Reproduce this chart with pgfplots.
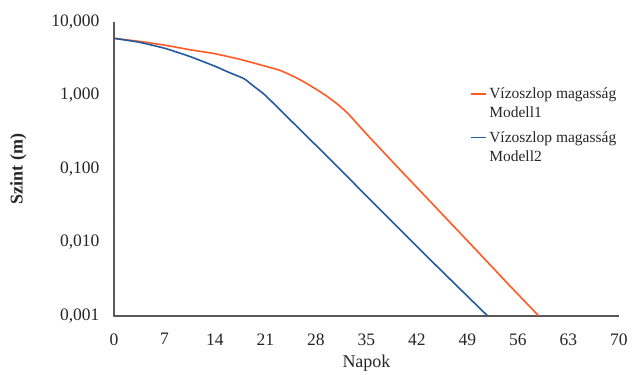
\documentclass[border=0pt]{standalone}
\usepackage{pgfplots}
\pgfplotsset{compat=1.18}
\usepackage{fontspec}
\setmainfont{Liberation Serif}
\definecolor{orangeM}{HTML}{FF5A24}
\definecolor{blueM}{HTML}{245A9E}
\definecolor{axgray}{HTML}{595959}
\pgfplotstableread{
x y
0 6.0
3.5 5.45
7 4.85
10.5 4.2
14 3.7
17.5 3.1
21 2.5
23 2.2
25 1.8
26.5 1.5
28 1.22
29.5 0.98
31 0.76
32.5 0.56
35 0.30
40 0.090
45 0.0274
50 0.0083
55 0.0025
58.9 0.001
}\modelone
\pgfplotstableread{
x y
0 6.0
3.5 5.3
7 4.4
10.5 3.4
14 2.5
16 2.05
18 1.7
19 1.43
20 1.2
21 1.0
25 0.41
30 0.134
35 0.043
40 0.0139
45 0.0045
51.8 0.001
}\modeltwo
\begin{document}
\begin{tikzpicture}
\begin{axis}[
  name=ax,
  scale only axis,
  width=505pt, height=294pt,
  ymode=log,
  xmin=0, xmax=70, ymin=0.001, ymax=10,
  axis lines=left,
  axis line style={axgray, line width=1.2pt, -},
  xtick={0,7,...,70},
  ytick={0.001,0.01,0.1,1,10},
  yticklabels={{0,001},{0,010},{0,100},{1,000},{10,000}},
  major tick length=0pt,
  minor tick num=0,
  /pgf/number format/assume math mode=true,
  tick label style={font=\fontsize{17.5}{20}\selectfont, text=black!85},
  xticklabel style={yshift=-14pt},
  yticklabel style={xshift=-11pt},
  xlabel={Napok},
  ylabel={\textbf{Szint (m)}},
  label style={font=\fontsize{18}{20}\selectfont, text=black!85},
  xlabel style={yshift=-3pt},
  ylabel style={yshift=18pt},
  legend style={draw=none, fill=none, at={(0.70,0.79)}, anchor=north west,
    font=\fontsize{15.5}{19}\selectfont, cells={align=left}, row sep=8pt,
    text=black!85},
  legend cell align=left,
  legend image code/.code={\draw[#1, line width=1.6pt] (0pt,9.5pt) -- (15pt,9.5pt);},
]
\addplot[orangeM, line width=1.6pt, smooth, tension=0.3] table[x=x,y=y] {\modelone};
\addlegendentry{Vízoszlop magasság\\Modell1}
\addplot[blueM, line width=1.6pt, smooth, tension=0.3] table[x=x,y=y] {\modeltwo};
\addlegendentry{Vízoszlop magasság\\Modell2}
\end{axis}
\path ([xshift=-114pt,yshift=-56pt]ax.south west) rectangle ++(633pt,372pt);
\end{tikzpicture}
\end{document}
